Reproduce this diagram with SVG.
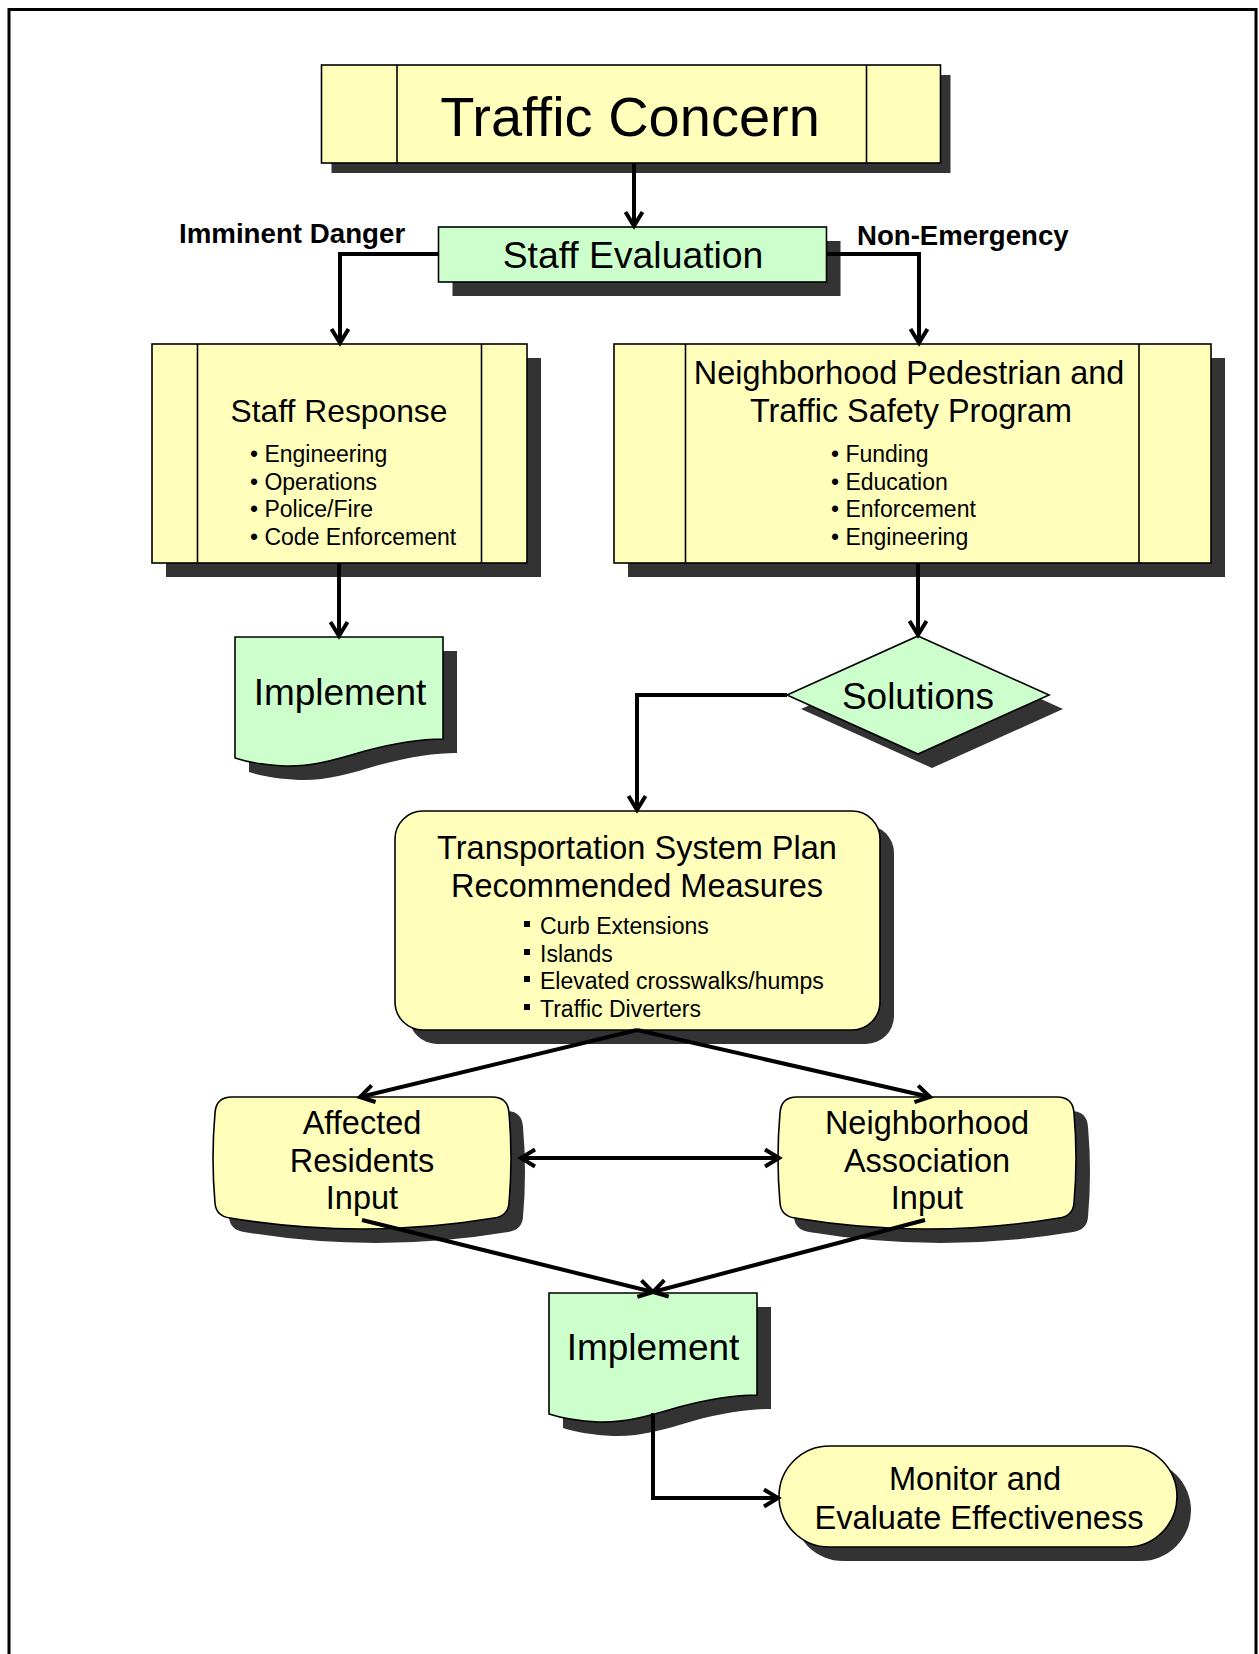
<svg xmlns="http://www.w3.org/2000/svg" width="1259" height="1654" viewBox="0 0 1259 1654">
<style>
.y{fill:#FFFFBB;stroke:#000;stroke-width:1.6}
.g{fill:#CCFFCC;stroke:#000;stroke-width:1.6}
.sh{fill:#333333}
.div{stroke:#000;stroke-width:1.6}
.t{font-family:"Liberation Sans",Arial,sans-serif;fill:#000}
.c{text-anchor:middle}
.b{font-weight:bold}
.e{fill:none;stroke:#000;stroke-width:4}
</style>
<defs>
<marker id="arr" markerUnits="userSpaceOnUse" orient="auto-start-reverse" refX="0" refY="0" viewBox="-20 -12 24 24" markerWidth="24" markerHeight="24" overflow="visible">
<path d="M-14,-8.5 L0,0 L-14,8.5" fill="none" stroke="#000" stroke-width="4"/>
</marker>
<path id="doc" d="M0,0 H208 V102 C185,102 160,106 130,114 C100,123 75,130 50,129 C30,128 12,125 0,121 Z"/>
<path id="inp" d="M17,0 H277 Q293,0 294,16 Q298,61 294,106 Q293,119 279,121 Q147,143 15,121 Q1,119 0,106 Q-4,61 0,16 Q1,0 17,0 Z"/>
</defs>
<rect width="1259" height="1654" fill="#fff"/>
<path d="M9,1654 V9.5 H1256 V1654" fill="none" stroke="#000" stroke-width="3"/>

<g id="traffic-concern">
<rect class="sh" x="331.5" y="75" width="619" height="98"/>
<rect class="y" x="321.5" y="65" width="619" height="98"/>
<line class="div" x1="397" y1="65" x2="397" y2="163"/>
<line class="div" x1="866.5" y1="65" x2="866.5" y2="163"/>
<text class="t c" x="630" y="135.5" font-size="56">Traffic Concern</text>
</g>

<g id="staff-evaluation">
<rect class="sh" x="452.5" y="241" width="388" height="55"/>
<rect class="g" x="438.5" y="227" width="388" height="55"/>
<text class="t c" x="633" y="267.5" font-size="37.3">Staff Evaluation</text>
</g>

<g id="label-imminent">
<text class="t b" x="179" y="243" font-size="27.7">Imminent Danger</text>
</g>
<g id="label-nonemergency">
<text class="t b" x="857" y="245" font-size="27.6">Non-Emergency</text>
</g>

<g id="staff-response">
<rect class="sh" x="166" y="358" width="375" height="219"/>
<rect class="y" x="152" y="344" width="375" height="219"/>
<line class="div" x1="197.5" y1="344" x2="197.5" y2="563"/>
<line class="div" x1="481.5" y1="344" x2="481.5" y2="563"/>
<text class="t c" x="339" y="421.5" font-size="31.8">Staff Response</text>
<text class="t" font-size="23"><tspan x="250" y="462">• Engineering</tspan><tspan x="250" y="489.5">• Operations</tspan><tspan x="250" y="517">• Police/Fire</tspan><tspan x="250" y="544.5">• Code Enforcement</tspan></text>
</g>

<g id="ntsp">
<rect class="sh" x="628" y="358" width="597" height="219"/>
<rect class="y" x="614" y="344" width="597" height="219"/>
<line class="div" x1="685.5" y1="344" x2="685.5" y2="563"/>
<line class="div" x1="1139" y1="344" x2="1139" y2="563"/>
<text class="t c" x="909" y="384" font-size="32.4">Neighborhood Pedestrian and</text>
<text class="t c" x="911" y="421.5" font-size="32.4">Traffic Safety Program</text>
<text class="t" font-size="23"><tspan x="831" y="462">• Funding</tspan><tspan x="831" y="489.5">• Education</tspan><tspan x="831" y="517">• Enforcement</tspan><tspan x="831" y="544.5">• Engineering</tspan></text>
</g>

<g id="implement-1">
<use href="#doc" class="sh" transform="translate(249,651)"/>
<use href="#doc" class="g" transform="translate(235,637)"/>
<text class="t c" x="340" y="705" font-size="37">Implement</text>
</g>

<g id="solutions">
<polygon class="sh" points="932,650 1063,709 932,768 801,709"/>
<polygon class="g" points="918,636 1049,695 918,754 787,695"/>
<text class="t c" x="918" y="709" font-size="37">Solutions</text>
</g>

<g id="tsp">
<rect class="sh" x="409" y="825" width="485" height="219" rx="28"/>
<rect class="y" x="395" y="811" width="485" height="219" rx="28"/>
<text class="t c" x="637" y="859" font-size="32.5">Transportation System Plan</text>
<text class="t c" x="637" y="897" font-size="32.5">Recommended Measures</text>
<g fill="#000"><rect x="524" y="921" width="6" height="6"/><rect x="524" y="949" width="6" height="6"/><rect x="524" y="976" width="6" height="6"/><rect x="524" y="1004" width="6" height="6"/></g>
<text class="t" font-size="23"><tspan x="540" y="934">Curb Extensions</tspan><tspan x="540" y="962">Islands</tspan><tspan x="540" y="989">Elevated crosswalks/humps</tspan><tspan x="540" y="1017">Traffic Diverters</tspan></text>
</g>

<g id="affected-residents">
<use href="#inp" class="sh" transform="translate(229,1111)"/>
<use href="#inp" class="y" transform="translate(215,1097)"/>
<text class="t c" font-size="32.5"><tspan x="362" y="1133.5">Affected</tspan><tspan x="362" y="1172">Residents</tspan><tspan x="362" y="1209">Input</tspan></text>
</g>

<g id="neighborhood-association">
<use href="#inp" class="sh" transform="translate(794,1111)"/>
<use href="#inp" class="y" transform="translate(780,1097)"/>
<text class="t c" font-size="32.5"><tspan x="927" y="1133.5">Neighborhood</tspan><tspan x="927" y="1172">Association</tspan><tspan x="927" y="1209">Input</tspan></text>
</g>

<g id="implement-2">
<use href="#doc" class="sh" transform="translate(563,1307)"/>
<use href="#doc" class="g" transform="translate(549,1293)"/>
<text class="t c" x="653" y="1360" font-size="37">Implement</text>
</g>

<g id="monitor">
<rect class="sh" x="793" y="1460" width="398" height="101" rx="50.5"/>
<rect class="y" x="779" y="1446" width="398" height="101" rx="50.5"/>
<text class="t c" font-size="32.6"><tspan x="975" y="1489.5">Monitor and</tspan><tspan x="979" y="1528.5">Evaluate Effectiveness</tspan></text>
</g>

<g id="connectors">
<path class="e" d="M634,163 V226" marker-end="url(#arr)"/>
<path class="e" d="M438,254 H340 V343" marker-end="url(#arr)"/>
<path class="e" d="M827,254 H919 V343" marker-end="url(#arr)"/>
<path class="e" d="M339,563 V636" marker-end="url(#arr)"/>
<path class="e" d="M918,563 V635" marker-end="url(#arr)"/>
<path class="e" d="M787,695 H637 V810" marker-end="url(#arr)"/>
<path class="e" d="M637,1030 L360,1097" marker-end="url(#arr)"/>
<path class="e" d="M637,1030 L930,1097" marker-end="url(#arr)"/>
<path class="e" d="M521,1158 H779" marker-start="url(#arr)" marker-end="url(#arr)"/>
<path class="e" d="M362,1220 L653,1292" marker-end="url(#arr)"/>
<path class="e" d="M925,1220 L653,1292" marker-end="url(#arr)"/>
<path class="e" d="M653,1413 V1498 H778" marker-end="url(#arr)"/>
</g>
</svg>
